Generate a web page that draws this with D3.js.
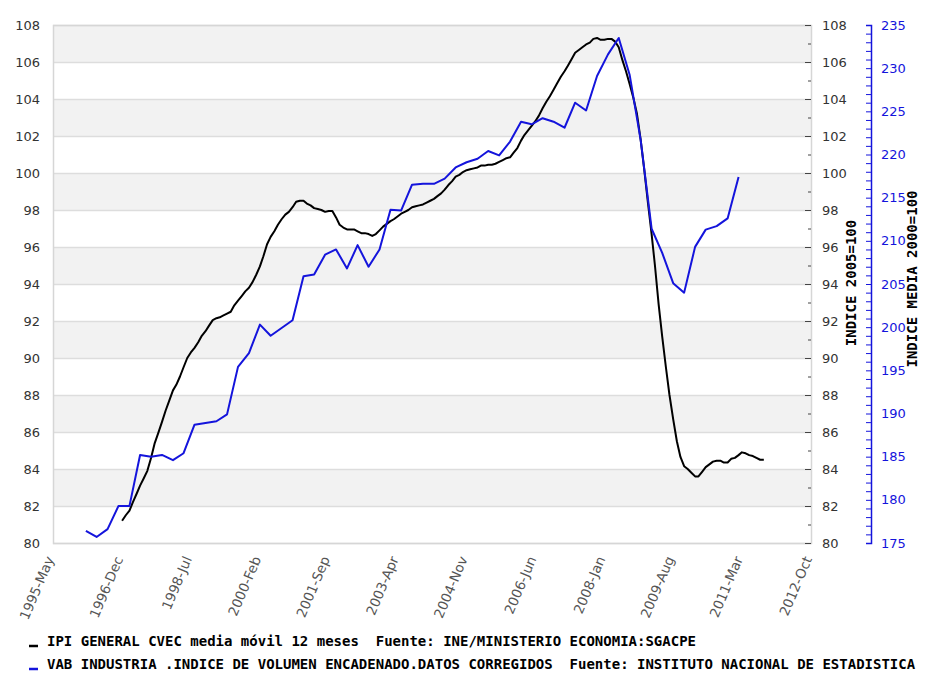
<!DOCTYPE html>
<html><head><meta charset="utf-8">
<script src="https://cdn.jsdelivr.net/npm/d3@7"></script>
<style>
html,body{margin:0;padding:0;background:#fff;}
svg{display:block;}
</style></head>
<body>
<svg id="chart" width="926" height="676"></svg>
<script>
// ---- Data ----
const xTickLabels = ["1995-May","1996-Dec","1998-Jul","2000-Feb","2001-Sep","2003-Apr","2004-Nov","2006-Jun","2008-Jan","2009-Aug","2011-Mar","2012-Oct"];
const leftTicks = [80,82,84,86,88,90,92,94,96,98,100,102,104,106,108];
const blueTicks = [175,180,185,190,195,200,205,210,215,220,225,230,235];

// IPI general, 12-month moving average, monthly from 1996-Dec
const ipiStart = "1996-12";
const ipiValues = [
81.2,81.5,81.75,82.2,82.65,83.1,83.5,83.9,84.6,85.4,85.95,86.55,
87.15,87.7,88.25,88.55,89.0,89.5,90.0,90.3,90.55,90.85,91.2,91.45,
91.75,92.05,92.15,92.2,92.3,92.4,92.5,92.85,93.1,93.35,93.6,93.8,
94.1,94.5,94.95,95.5,96.15,96.55,96.85,97.2,97.5,97.75,97.9,98.15,
98.45,98.5,98.5,98.35,98.25,98.1,98.05,98.0,97.9,97.95,97.95,97.6,
97.2,97.05,96.95,96.95,96.95,96.85,96.75,96.75,96.7,96.6,96.7,96.9,
97.1,97.25,97.4,97.5,97.65,97.8,97.9,98.0,98.15,98.2,98.25,98.3,
98.4,98.5,98.6,98.75,98.9,99.1,99.35,99.55,99.8,99.9,100.05,100.15,
100.2,100.25,100.3,100.4,100.4,100.45,100.45,100.5,100.6,100.7,100.8,100.85,
101.1,101.35,101.75,102.05,102.3,102.55,102.8,103.1,103.5,103.85,104.15,104.5,
104.85,105.2,105.5,105.8,106.15,106.5,106.65,106.8,106.95,107.05,107.25,107.3,
107.2,107.2,107.25,107.25,107.1,106.8,106.1,105.5,104.8,104.05,103.2,101.8,
100.2,98.4,96.7,95.0,92.9,91.15,89.5,88.0,86.7,85.5,84.65,84.15,
84.0,83.8,83.6,83.6,83.85,84.1,84.25,84.4,84.45,84.45,84.35,84.35,
84.55,84.6,84.75,84.9,84.85,84.75,84.7,84.6,84.5,84.5
];

// VAB industria, quarterly (plotted at mid-quarter) from 1996-Q1
const vabStart = "1996-02";
const vabValues = [
176.4,175.7,176.6,179.3,179.3,185.2,185.0,185.2,184.6,185.4,
188.7,188.9,189.1,189.9,195.4,197.0,200.3,199.0,199.9,200.8,
205.9,206.1,208.4,209.0,206.8,209.5,207.0,209.0,213.6,213.5,
216.5,216.6,216.6,217.2,218.5,219.1,219.5,220.4,219.9,221.5,
223.8,223.5,224.2,223.8,223.1,226.0,225.1,229.1,231.6,233.5,
229.2,221.7,211.4,208.6,205.1,204.0,209.3,211.3,211.7,212.6,217.4
];

const legendItems = [
  "IPI GENERAL CVEC media móvil 12 meses  Fuente: INE/MINISTERIO ECONOMIA:SGACPE",
  "VAB INDUSTRIA .INDICE DE VOLUMEN ENCADENADO.DATOS CORREGIDOS  Fuente: INSTITUTO NACIONAL DE ESTADISTICA"
];
const seriesColors = ["#000000", "#1414dc"];
const axisTitles = ["INDICE 2005=100", "INDICE MEDIA 2000=100"];

// ---- Build ----
const parseYM = d3.timeParse("%Y-%m");
const ipi = ipiValues.map((v,i)=>({date:d3.timeMonth.offset(parseYM(ipiStart), i), v}));
const vab = vabValues.map((v,i)=>({date:d3.timeMonth.offset(parseYM(vabStart), 3*i), v}));

const svg = d3.select("#chart");
const L = 53, R = 811, T = 25, B = 543;

const x = d3.scaleTime().domain([new Date(1995,4,1), new Date(2012,9,1)]).range([L, R]);
const yL = d3.scaleLinear().domain([80,108]).range([B, T]);
const yB = d3.scaleLinear().domain([175,235]).range([B, T]);

// bands
const g = svg.append("g");
for (let v = 80; v < 108; v += 2) {
  if (((v - 80) / 2) % 2 === 1) {
    g.append("rect").attr("x", L).attr("width", R - L)
      .attr("y", yL(v + 2)).attr("height", yL(v) - yL(v + 2)).attr("fill", "#f2f2f2");
  }
}
g.selectAll("line.grid").data(leftTicks).join("line")
  .attr("x1", L).attr("x2", R).attr("y1", d=>yL(d)+0.5).attr("y2", d=>yL(d)+0.5)
  .attr("stroke", "#dddddd").attr("stroke-width", 1.5);
g.append("rect").attr("x", L+0.5).attr("y", T+0.5).attr("width", R-L).attr("height", B-T)
  .attr("fill","none").attr("stroke","#d6d6d6").attr("stroke-width",1.5);

// left axis labels
const tickFont = "'DejaVu Sans', sans-serif";
svg.append("g").selectAll("text").data(leftTicks).join("text")
  .attr("x", 40).attr("y", d=>yL(d)).attr("dy","0.35em").attr("text-anchor","end")
  .attr("font-family", tickFont).attr("font-size", 13).attr("fill","#333")
  .text(d=>d);

// right black axis
const rAxis = d3.axisRight(yL).tickValues(d3.range(80,109,1)).tickSize(0).tickFormat("");
const rg = svg.append("g").attr("transform", `translate(${R},0)`).call(rAxis);
rg.select(".domain").remove();
rg.selectAll(".tick line").remove();
rg.selectAll(".tick").append("line")
  .attr("x1", d=> d%2===0 ? -6 : -3).attr("x2", 0).attr("stroke","#444").attr("stroke-width",1);
rg.selectAll(".tick").filter(d=>d%2===0).append("text")
  .attr("x", 11).attr("dy","0.35em").attr("text-anchor","start")
  .attr("font-family", tickFont).attr("font-size", 13).attr("fill","#333").text(d=>d);

// blue axis
const BX = 871;
const bAxis = d3.axisLeft(yB).tickValues(d3.range(175,236,1)).tickSize(5).tickFormat("");
const bg = svg.append("g").attr("transform", `translate(${BX},0)`).call(bAxis);
bg.select(".domain").attr("stroke", seriesColors[1]).attr("stroke-width", 1.5);
bg.selectAll(".tick line").attr("stroke", seriesColors[1]);
bg.selectAll("text.bl").data(blueTicks).join("text").attr("class","bl")
  .attr("x", 10).attr("y", d=>yB(d)).attr("dy","0.35em").attr("text-anchor","start")
  .attr("font-family", tickFont).attr("font-size", 13).attr("fill", seriesColors[1]).text(d=>d);

// axis titles
const monoFont = "'DejaVu Sans Mono', monospace";
svg.append("text").attr("transform", "translate(856,283) rotate(-90)")
  .attr("text-anchor","middle").attr("font-family", monoFont).attr("font-weight","bold")
  .attr("font-size", 14).attr("fill","#000").text(axisTitles[0]);
svg.append("text").attr("transform", "translate(917,279) rotate(-90)")
  .attr("text-anchor","middle").attr("font-family", monoFont).attr("font-weight","bold")
  .attr("font-size", 14).attr("fill","#000").text(axisTitles[1]);

// x axis labels
const xDates = xTickLabels.map(s => d3.timeParse("%Y-%b")(s));
svg.append("g").selectAll("text").data(xTickLabels).join("text")
  .attr("transform", (d,i)=>`translate(${x(xDates[i]) - 3},${B + 14}) rotate(-67)`)
  .attr("text-anchor","end").attr("dy","0.35em")
  .attr("font-family", tickFont).attr("font-size", 13.5).attr("fill","#555")
  .text(d=>d);

// lines
const lineL = d3.line().x(d=>x(d.date)).y(d=>yL(d.v));
const lineB = d3.line().x(d=>x(d.date)).y(d=>yB(d.v));
svg.append("path").datum(ipi).attr("d", lineL).attr("fill","none")
  .attr("stroke", seriesColors[0]).attr("stroke-width", 2).attr("stroke-linejoin","round");
svg.append("path").datum(vab).attr("d", lineB).attr("fill","none")
  .attr("stroke", seriesColors[1]).attr("stroke-width", 2).attr("stroke-linejoin","round");

// legend
const lg = svg.append("g");
legendItems.forEach((t,i)=>{
  const yy = 646 + i*23;
  lg.append("line").attr("x1", 29).attr("x2", 38).attr("y1", yy).attr("y2", yy)
    .attr("stroke", seriesColors[i]).attr("stroke-width", 2.5);
  lg.append("text").attr("x", 47).attr("y", yy)
    .attr("font-family", monoFont).attr("font-weight","bold").attr("font-size", 14)
    .attr("fill","#000").style("white-space","pre").text(t);
});
</script>
</body></html>
